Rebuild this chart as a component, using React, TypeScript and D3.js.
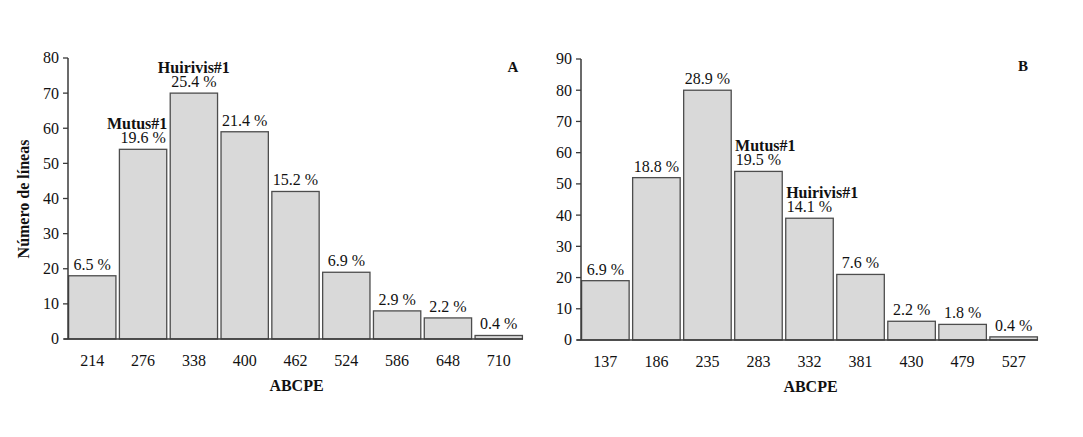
import React from "react";
import * as d3 from "d3";

// Panel A data
const categoriesA = ["214", "276", "338", "400", "462", "524", "586", "648", "710"];
const countsA = [18, 54, 70, 59, 42, 19, 8, 6, 1];
const pctLabelsA = ["6.5 %", "19.6 %", "25.4 %", "21.4 %", "15.2 %", "6.9 %", "2.9 %", "2.2 %", "0.4 %"];
const yTicksA = [0, 10, 20, 30, 40, 50, 60, 70, 80];
const namesA = [
  { cat: "276", name: "Mutus#1" },
  { cat: "338", name: "Huirivis#1" },
];

// Panel B data
const categoriesB = ["137", "186", "235", "283", "332", "381", "430", "479", "527"];
const countsB = [19, 52, 80, 54, 39, 21, 6, 5, 1];
const pctLabelsB = ["6.9 %", "18.8 %", "28.9 %", "19.5 %", "14.1 %", "7.6 %", "2.2 %", "1.8 %", "0.4 %"];
const yTicksB = [0, 10, 20, 30, 40, 50, 60, 70, 80, 90];
const namesB = [
  { cat: "283", name: "Mutus#1" },
  { cat: "332", name: "Huirivis#1" },
];

const FONT = "'Liberation Serif', 'Times New Roman', serif";
const AXIS = "#3a3a3a";
const BAR_FILL = "#d9d9d9";
const BAR_STROKE = "#4d4d4d";

type PanelProps = {
  cats: string[];
  counts: number[];
  pcts: string[];
  ticks: number[];
  names: { cat: string; name: string }[];
  nameAlign: ("start" | "middle" | "end")[];
  x0: number;
  x1: number;
  yTop: number;
  yBottom: number;
  yMax: number;
  letter: string;
  letterX: number;
  letterY: number;
};

function Panel(p: PanelProps) {
  const x = d3.scaleBand<string>().domain(p.cats).range([p.x0, p.x1]).paddingInner(0.045).paddingOuter(0);
  const y = d3.scaleLinear().domain([0, p.yMax]).range([p.yBottom, p.yTop]);
  const bw = x.bandwidth();
  return (
    <g fontFamily={FONT}>
      {p.cats.map((c, i) => (
        <rect
          key={c}
          x={x(c)! + 0.6}
          y={y(p.counts[i])}
          width={bw - 1.2}
          height={y(0) - y(p.counts[i])}
          fill={BAR_FILL}
          stroke={BAR_STROKE}
          strokeWidth={1.3}
        />
      ))}
      {p.cats.map((c, i) => (
        <text
          key={"p" + c}
          x={x(c)! + bw / 2}
          y={y(p.counts[i]) - 6}
          textAnchor="middle"
          fontSize={16}
          fill="#111"
        >
          {p.pcts[i]}
        </text>
      ))}
      {p.names.map((n, k) => {
        const i = p.cats.indexOf(n.cat);
        const align = p.nameAlign[k];
        const bx = x(n.cat)!;
        const tx = align === "start" ? bx + 1 : align === "end" ? bx + bw : bx + bw / 2;
        return (
          <text
            key={"n" + n.cat}
            x={tx}
            y={y(p.counts[i]) - 20}
            textAnchor={align}
            fontSize={16}
            fontWeight="bold"
            fill="#111"
          >
            {n.name}
          </text>
        );
      })}
      {/* y axis */}
      <line x1={p.x0} x2={p.x0} y1={p.yTop} y2={p.yBottom} stroke={AXIS} strokeWidth={1.5} />
      {p.ticks.map((t) => (
        <g key={"t" + t}>
          <line x1={p.x0 - 5} x2={p.x0} y1={y(t)} y2={y(t)} stroke={AXIS} strokeWidth={1.3} />
          <text x={p.x0 - 9} y={y(t)} dy="0.34em" textAnchor="end" fontSize={16} fill="#111">
            {t}
          </text>
        </g>
      ))}
      {/* x axis */}
      <line x1={p.x0 - 4} x2={p.x1} y1={p.yBottom} y2={p.yBottom} stroke={AXIS} strokeWidth={1.5} />
      {p.cats.map((c) => (
        <text key={"x" + c} x={x(c)! + bw / 2} y={p.yBottom + 27} textAnchor="middle" fontSize={16} fill="#111">
          {c}
        </text>
      ))}
      <text
        x={(p.x0 + p.x1) / 2 + 1}
        y={p.yBottom + 52}
        textAnchor="middle"
        fontSize={16}
        fontWeight="bold"
        fill="#111"
      >
        ABCPE
      </text>
      <text x={p.letterX} y={p.letterY} textAnchor="middle" fontSize={15} fontWeight="bold" fill="#111">
        {p.letter}
      </text>
    </g>
  );
}

export default function App() {
  return (
    <svg
      width={1083}
      height={437}
      style={{ position: "absolute", left: 0, top: 0, background: "#fff" }}
    >
      <rect width={1083} height={437} fill="#fff" />
      <text
        transform="translate(29,199) rotate(-90)"
        textAnchor="middle"
        fontFamily={FONT}
        fontSize={16}
        fontWeight="bold"
        fill="#111"
      >
        Número de líneas
      </text>
      <Panel
        cats={categoriesA}
        counts={countsA}
        pcts={pctLabelsA}
        ticks={yTicksA}
        names={namesA}
        nameAlign={["end", "middle"]}
        x0={68}
        x1={523}
        yTop={58}
        yBottom={339}
        yMax={80}
        letter="A"
        letterX={513}
        letterY={72}
      />
      <Panel
        cats={categoriesB}
        counts={countsB}
        pcts={pctLabelsB}
        ticks={yTicksB}
        names={namesB}
        nameAlign={["start", "start"]}
        x0={581}
        x1={1038}
        yTop={59}
        yBottom={340}
        yMax={90}
        letter="B"
        letterX={1023}
        letterY={71}
      />
    </svg>
  );
}
